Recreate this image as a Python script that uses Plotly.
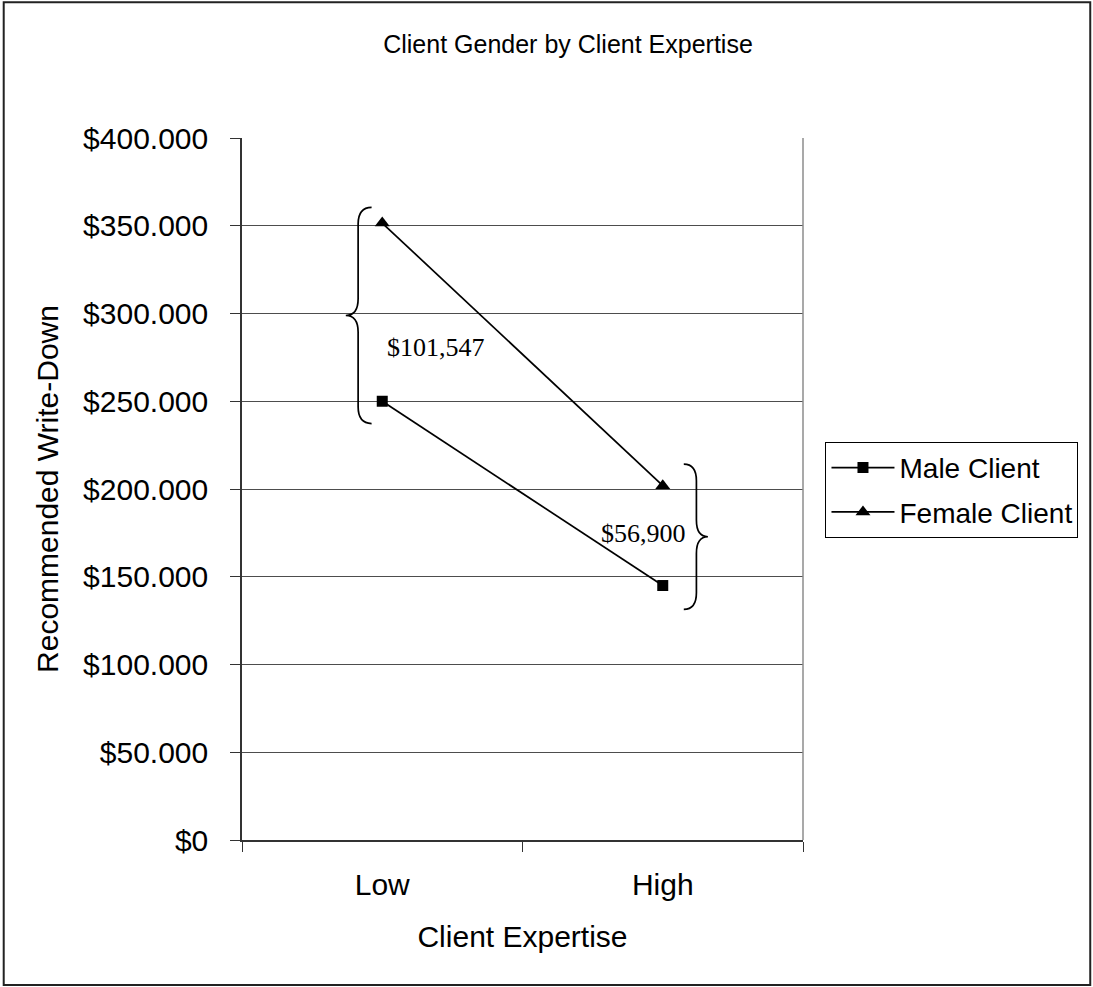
import plotly.graph_objects as go

# ---- data ----
categories = ["Low", "High"]
male_client = [250000, 145000]
female_client = [351547, 201900]
series_names = ["Male Client", "Female Client"]
y_ticks = [0, 50000, 100000, 150000, 200000, 250000, 300000, 350000, 400000]

title_text = "Client Gender by Client Expertise"
x_title = "Client Expertise"
y_title = "Recommended Write-Down"

fig = go.Figure()
fig.add_trace(go.Scatter(
    x=categories, y=male_client, name=series_names[0], mode="lines+markers",
    line=dict(color="black", width=1.7),
    marker=dict(symbol="square", size=11, color="black"),
    legendgroup="m",
))
fig.add_trace(go.Scatter(
    x=categories, y=female_client, name=series_names[1], mode="lines+markers",
    line=dict(color="black", width=1.7),
    marker=dict(symbol="triangle-up", size=13, color="black"),
    legendgroup="f",
))


def brace_path(xc, lo, hi, side):
    # side = -1 -> "{" on left of xc ; +1 -> "}" on right of xc
    tip = xc + side * (0.038 if side < 0 else 0.075)
    spine = xc + side * (0.086 if side < 0 else 0.12)
    point = xc + side * (0.13 if side < 0 else 0.161)
    mid = (lo + hi) / 2
    r = 9500
    return (f"M {tip},{hi} Q {spine},{hi} {spine},{hi - r} "
            f"L {spine},{mid + r} Q {spine},{mid} {point},{mid} "
            f"Q {spine},{mid} {spine},{mid - r} "
            f"L {spine},{lo + r} Q {spine},{lo} {tip},{lo}")


shapes = []
# Low brace (left side)
lo0 = male_client[0] - 12700
hi0 = female_client[0] + 8900
shapes.append(dict(type="path", xref="x", yref="y", path=brace_path(0, lo0, hi0, -1),
                   line=dict(color="black", width=1.7)))
# High brace (right side)
lo1 = male_client[1] - 13600
hi1 = female_client[1] + 12300
shapes.append(dict(type="path", xref="x", yref="y", path=brace_path(1, lo1, hi1, 1),
                   line=dict(color="black", width=1.7)))
# plot-area right border
shapes.append(dict(type="line", xref="paper", yref="paper", x0=1, x1=1, y0=0, y1=1,
                   line=dict(color="#8c8c8c", width=1.5)))
# outer chart border
W, H = 1093, 987
L, R, T, B = 242, 803.5, 137.7, 840
pw, ph = R - L, B - T
def px2paper_x(px):
    return (px - L) / pw
def px2paper_y(py):
    return (B - py) / ph
shapes.append(dict(type="rect", xref="paper", yref="paper",
                   x0=px2paper_x(3.5), x1=px2paper_x(1091), y0=px2paper_y(985), y1=px2paper_y(2),
                   line=dict(color="#222222", width=2)))

diff_low = female_client[0] - male_client[0]
diff_high = female_client[1] - male_client[1]
annotations = [
    dict(x=0.19, y=(lo0 + hi0) / 2 - 18000, xref="x", yref="y", text=f"${diff_low:,}",
         showarrow=False, font=dict(family="Liberation Serif", size=26, color="black")),
    dict(x=1 - 0.068, y=(lo1 + hi1) / 2 + 2000, xref="x", yref="y", text=f"${diff_high:,}",
         showarrow=False, font=dict(family="Liberation Serif", size=26, color="black")),
]

fig.update_layout(
    width=W, height=H,
    margin=dict(l=L, r=W - R, t=T, b=H - B, pad=0),
    paper_bgcolor="white", plot_bgcolor="white",
    separators=",.",
    font=dict(family="Liberation Sans, Arial", color="black"),
    title=dict(text=title_text, x=568 / W, xanchor="center", y=1 - 44 / H, yanchor="middle",
               xref="container", yref="container",
               font=dict(size=25, color="black", family="Liberation Sans, Arial")),
    showlegend=True,
    legend=dict(x=px2paper_x(826), y=px2paper_y(441.7), xanchor="left", yanchor="top",
                bordercolor="black", borderwidth=1, bgcolor="white",
                font=dict(size=28, color="black", family="Liberation Sans, Arial"),
                tracegroupgap=5, traceorder="grouped", itemwidth=63),
    shapes=shapes,
    annotations=annotations,
)

fig.update_xaxes(
    type="category", range=[-0.5, 1.5], tickson="boundaries",
    ticks="outside", ticklen=10, tickwidth=1, tickcolor="#333333",
    showline=True, linecolor="#333333", linewidth=1.5,
    showgrid=False, zeroline=False,
    tickfont=dict(size=30, color="black"),
    ticklabelstandoff=17,
    title=dict(text=x_title, font=dict(size=30, color="black"), standoff=26),
)
fig.update_yaxes(
    range=[0, 400000], tickvals=y_ticks, tickformat="$,.0f",
    ticks="outside", ticklen=10, tickwidth=1, tickcolor="#333333",
    showline=True, linecolor="#333333", linewidth=1.5,
    showgrid=True, gridcolor="#4d4d4d", gridwidth=1,
    zeroline=False,
    tickfont=dict(size=30, color="black"),
    ticklabelstandoff=16,
    title=dict(text=y_title, font=dict(size=30, color="black"), standoff=16),
)

fig.write_html("out.html")
